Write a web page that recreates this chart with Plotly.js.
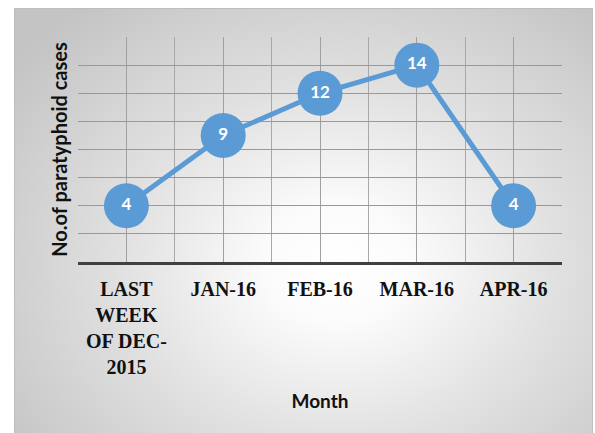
<!DOCTYPE html>
<html>
<head>
<meta charset="utf-8">
<script src="https://cdn.plot.ly/plotly-3.0.1.min.js"></script>
<style>
  html, body { margin:0; padding:0; background:#ffffff; }
  #wrap { position:relative; width:595px; height:433px; overflow:hidden; background:#ffffff; }
  #frame { position:absolute; left:14px; top:8px; width:577px; height:440px;
           border:1px solid #bdbdbd;
           background: radial-gradient(ellipse 70% 75% at 56% 58%, #ffffff 0%, #fbfbfb 18%, #e0e0e0 55%, #c4c4c4 100%); }
  #chart { position:absolute; left:0; top:0; width:595px; height:433px; }
</style>
</head>
<body>
<div id="wrap">
  <div id="frame"></div>
  <div id="chart"></div>
</div>
<script>
const categories = ["LAST<br>WEEK<br>OF DEC-<br>2015", "JAN-16", "FEB-16", "MAR-16", "APR-16"];
const cases = [4, 9, 12, 14, 4];
const xTitle = "Month";
const yTitle = "No.of paratyphoid cases";

const idx = categories.map((_, i) => i);
const boundaries = [];
for (let i = 0; i <= categories.length; i++) boundaries.push(i - 0.5);

const trace = {
  x: idx,
  y: cases,
  mode: "lines+markers+text",
  text: cases.map(String),
  textposition: "middle center",
  textfont: { family: "Lato, 'Open Sans', sans-serif", size: 17, color: "#ffffff", weight: "bold" },
  line: { color: "#5B9BD5", width: 5 },
  marker: { color: "#5B9BD5", size: 45 },
  hoverinfo: "none",
  cliponaxis: false,
  showlegend: false
};

const layout = {
  width: 595, height: 433,
  margin: { l: 78, r: 33, t: 37, b: 171 },
  paper_bgcolor: "rgba(0,0,0,0)",
  plot_bgcolor: "rgba(0,0,0,0)",
  showlegend: false,
  xaxis: {
    range: [-0.5, categories.length - 0.5],
    tickmode: "array",
    tickvals: idx,
    ticktext: categories,
    ticks: "",
    ticklabelstandoff: 7,
    tickfont: { family: "'Liberation Serif', 'Times New Roman', serif", size: 20, color: "#111111", weight: "bold" },
    showgrid: true,
    gridcolor: "#a0a0a0",
    gridwidth: 1,
    minor: { tickvals: boundaries, showgrid: true, gridcolor: "#a8a8a8", gridwidth: 1, ticks: "" },
    showline: true,
    linecolor: "#404040",
    linewidth: 3,
    zeroline: false,
    fixedrange: true,
    title: { text: xTitle, font: { family: "Lato, 'Open Sans', sans-serif", size: 19, color: "#111111", weight: "bold" }, standoff: 18 }
  },
  yaxis: {
    range: [0, 16],
    tickmode: "linear",
    tick0: 0,
    dtick: 2,
    showticklabels: false,
    ticks: "",
    showgrid: true,
    gridcolor: "#999999",
    gridwidth: 1,
    zeroline: false,
    showline: false,
    fixedrange: true,
    title: { text: yTitle, font: { family: "Lato, 'Open Sans', sans-serif", size: 20, color: "#111111", weight: "bold" }, standoff: 4 }
  }
};

Plotly.newPlot("chart", [trace], layout, { displayModeBar: false, staticPlot: true });
</script>
</body>
</html>
